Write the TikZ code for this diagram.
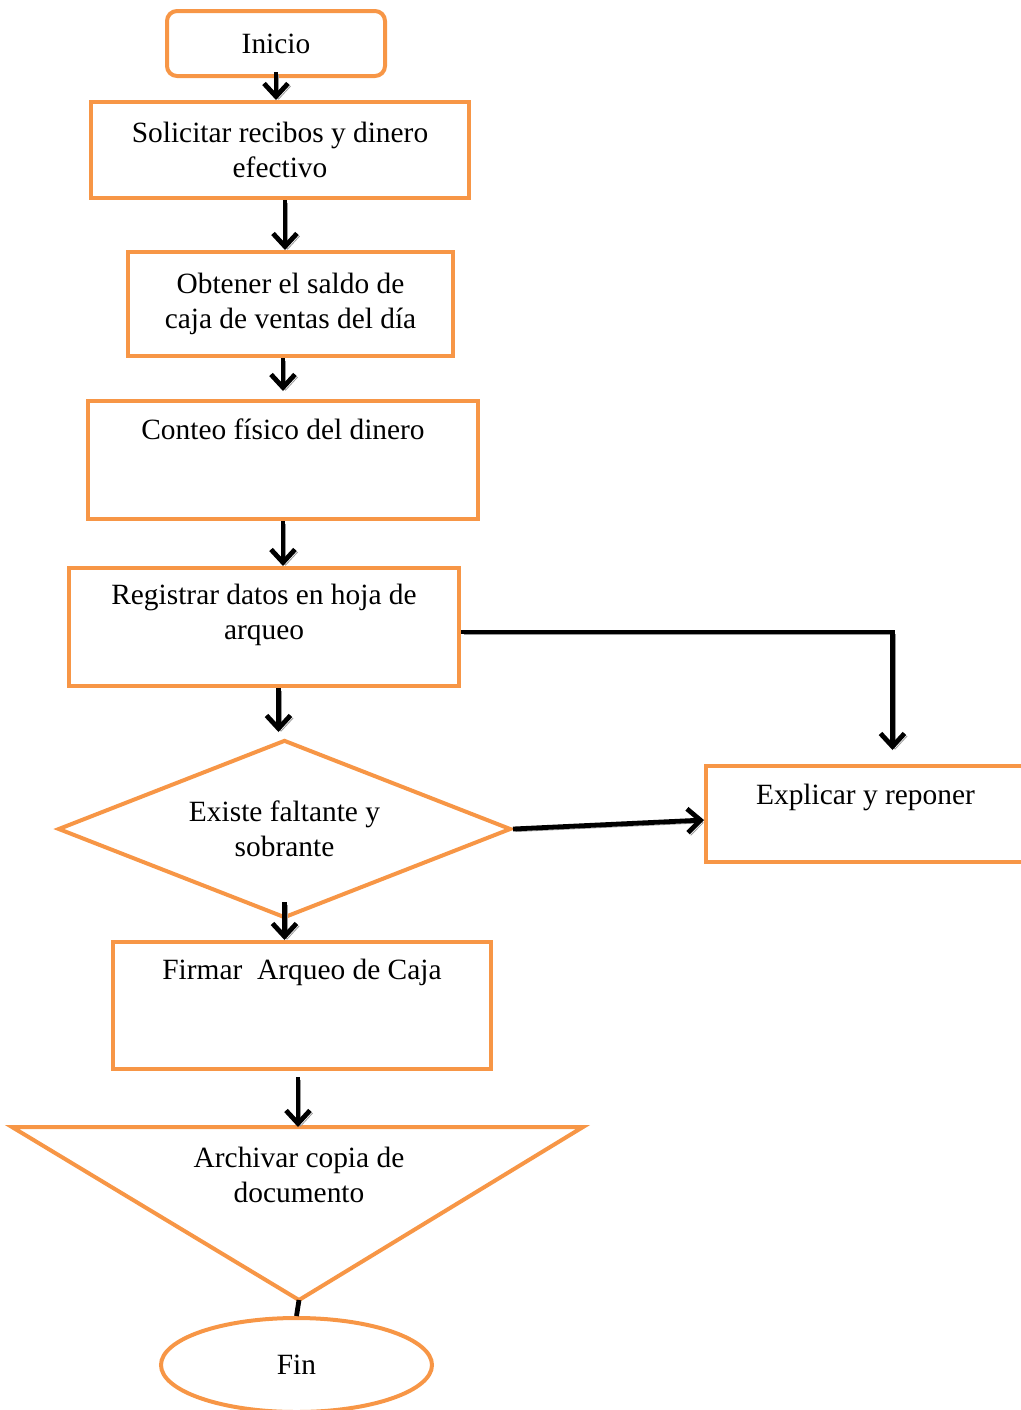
\documentclass[tikz,border=0pt]{standalone}
\usepackage{fontspec}
\setmainfont{Liberation Serif}
\usetikzlibrary{arrows.meta,shapes.geometric}
\definecolor{orng}{RGB}{247,150,70}
\tikzset{
  every node/.style={font=\fontsize{14.7pt}{17.5pt}\selectfont,align=center},
  box/.style={draw=orng,line width=2pt,inner sep=0pt},
  conn/.style={line width=2.4pt,-{Straight Barb[length=6.5pt,width=12pt]},
    preaction={draw=black!40,transform canvas={shift={(1.3pt,-1.3pt)}}}},
}
\begin{document}
\begin{tikzpicture}[x=0.5pt,y=-0.5pt]
  \useasboundingbox (0,0) rectangle (1021,1410);
  \node[box,rounded corners=5pt,minimum width=109pt,minimum height=32.5pt] (inicio) at (276,43.5) {Inicio};
  \node[box,minimum width=189pt,minimum height=48pt] (solicitar) at (280,150) {Solicitar recibos y dinero\\efectivo};
  \node[box,minimum width=162.5pt,minimum height=52pt] (saldo) at (290.5,304) {Obtener el saldo de\\caja de ventas del día};
  \node[box,minimum width=195pt,minimum height=59pt,text depth=31pt] (conteo) at (283,460) {Conteo físico del dinero};
  \node[box,minimum width=195pt,minimum height=59pt,text depth=15pt] (registrar) at (264,627) {Registrar datos en hoja de\\arqueo};
  \node[box,diamond,aspect=2.5,minimum width=226.5pt,minimum height=89pt] (existe) at (284.5,829) {Existe faltante y\\sobrante};
  \node[box,minimum width=159.5pt,minimum height=48pt,text depth=20pt] (explicar) at (865.5,814) {Explicar y reponer};
  \node[box,minimum width=189pt,minimum height=63.5pt,text depth=36pt] (firmar) at (302,1005.5) {Firmar\ \ Arqueo de Caja};
  % archivo (triangulo invertido)
  \coordinate (archA) at (12,1127); \coordinate (archB) at (583,1127);
  \coordinate (archC) at (299,1300); \coordinate (archT) at (298,1127);
  \draw[orng,line width=2pt] (archA) -- (archB) -- (archC) -- cycle;
  \node (archivar) at (299,1174.5) {Archivar copia de\\documento};
  \node[box,ellipse,minimum width=135.5pt,minimum height=47pt] (fin) at (296.5,1365) {Fin};
  % conectores
  \draw[conn] ([yshift=3pt]inicio.south) -- (inicio.south |- solicitar.north);
  \draw[conn] ([xshift=2.5pt]solicitar.south) -- ([xshift=2.5pt]solicitar.south |- saldo.north);
  \draw[conn,shorten >=4pt] (conteo.north |- saldo.south) -- (conteo.north);
  \draw[conn] (conteo.south) -- (conteo.south |- registrar.north);
  \draw[conn,shorten >=3pt] ([xshift=-3pt]existe.north |- registrar.south) -- ([xshift=-3pt]existe.north);
  \draw[conn,shorten >=7pt] ([yshift=-2.5pt]registrar.east) -| ([xshift=13.5pt]explicar.north);
  \draw[conn] (existe.east) -- ([yshift=-3pt]explicar.west);
  \draw[conn] ([yshift=9pt]existe.south) -- (existe.south |- firmar.north);
  \draw[conn] ([xshift=-2pt,yshift=-3pt]firmar.south) -- ([xshift=-2pt]firmar.south |- archT);
  \draw[line width=2.4pt] (archC) -- (fin.north);
\end{tikzpicture}
\end{document}
